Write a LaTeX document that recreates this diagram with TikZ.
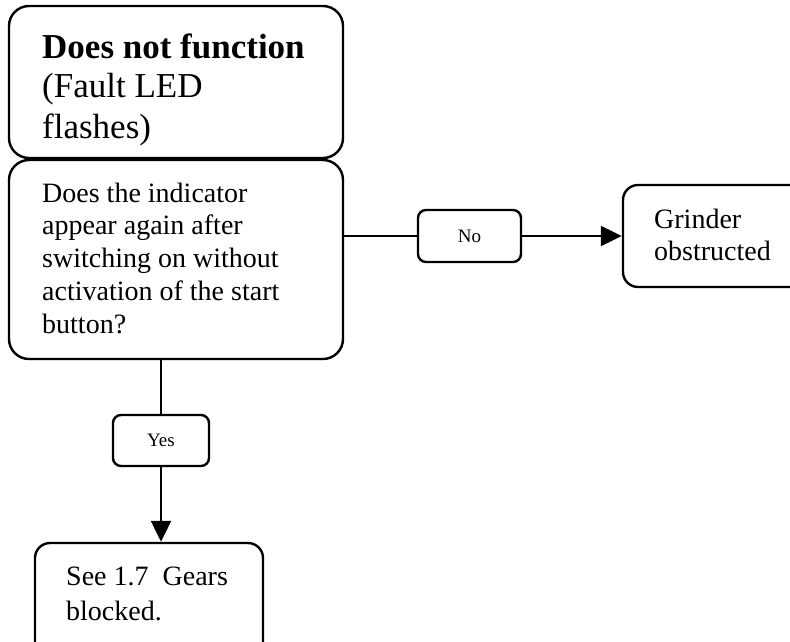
\documentclass[tikz,border=0pt]{standalone}
\usepackage{fontspec}
\setmainfont{Liberation Serif}
\usetikzlibrary{arrows.meta}
\begin{document}
\begin{tikzpicture}[x=1pt,y=-1pt,
  boxline/.style={draw, line width=2.4pt},
  bigbox/.style={boxline, rounded corners=20pt, inner sep=0pt},
  midbox/.style={boxline, rounded corners=15pt, inner sep=0pt},
  lblbox/.style={boxline, rounded corners=8pt, inner sep=0pt, font=\fontsize{19}{22}\selectfont},
  conn/.style={line width=2.2pt},
  tip/.style={-{Triangle[length=21pt,width=20pt]}},
  txt/.style={anchor=base west, align=left, inner sep=0pt}]
\useasboundingbox (0,0) rectangle (790,642);
\clip (0,0) rectangle (790,642);
% boxes
\node[bigbox, minimum width=334pt, minimum height=152pt] (top) at (176,82) {};
\node[bigbox, minimum width=334pt, minimum height=199pt] (q) at (176,259.5) {};
\node[lblbox, minimum width=103pt, minimum height=52pt] (no) at (469.5,236) {No};
\node[midbox, minimum width=207pt, minimum height=102pt] (grinder) at (726.5,236) {};
\node[lblbox, minimum width=96pt, minimum height=51pt] (yes) at (161,440.5) {Yes};
\node[midbox, minimum width=228pt, minimum height=137pt] (bottom) at (149,611.5) {};
% texts (anchored at the baseline of their last line)
\node[txt, font=\fontsize{35}{40}\selectfont] (toptext) at (42,138)
  {\textbf{Does not function}\\(Fault LED\\flashes)};
\node[txt, font=\fontsize{28}{32.7}\selectfont] (qtext) at (42,333)
  {Does the indicator\\appear again after\\switching on without\\activation of the start\\button?};
\node[txt, font=\fontsize{28}{32}\selectfont] (gtext) at (654,260)
  {Grinder\\obstructed};
\node[txt, font=\fontsize{28}{35}\selectfont] (btext) at (66,620)
  {See 1.7\ \ Gears\\blocked.};
% connectors
\draw[conn] (q.east |- no.west) -- (no.west);
\draw[conn, tip] (no.east) -- (grinder.west);
\draw[conn] (q.south -| yes.north) -- (yes.north);
\draw[conn, tip] (yes.south) -- (yes.south |- bottom.north);
\end{tikzpicture}
\end{document}
